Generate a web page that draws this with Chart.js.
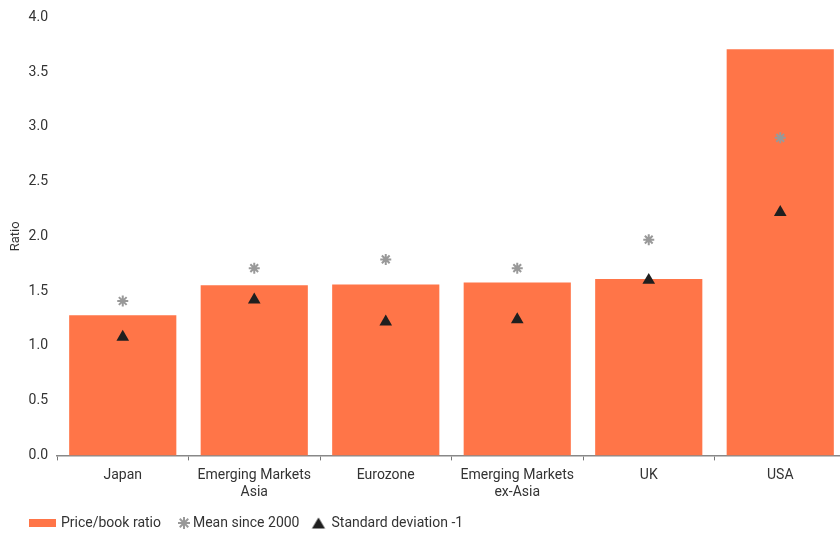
<!DOCTYPE html>
<html>
<head>
<meta charset="utf-8">
<script src="https://cdn.jsdelivr.net/npm/chart.js@4.4.0/dist/chart.umd.min.js"></script>
<style>
  html, body { margin: 0; padding: 0; background: #fff; overflow: hidden; }
  canvas { display: block; }
</style>
</head>
<body>
<canvas id="chart" width="846" height="534"></canvas>
<script>
// chart data
const categories = ['Japan', ['Emerging Markets', 'Asia'], 'Eurozone', ['Emerging Markets', 'ex-Asia'], 'UK', 'USA'];
const priceBook = [1.28, 1.555, 1.56, 1.58, 1.61, 3.71];
const meanSince2000 = [1.41, 1.71, 1.79, 1.71, 1.97, 2.90];
const stdDevMinus1 = [1.08, 1.42, 1.22, 1.24, 1.60, 2.22];
const yTicks = [0, 0.5, 1, 1.5, 2, 2.5, 3, 3.5, 4];

const FONT = "'Roboto', sans-serif";
const ORANGE = '#ff7548';
const GREY = '#999999';
const DARK = '#1f1f1f';

// legend symbols, drawn as small canvases so each entry keeps its own look
function symbolCanvas(w, h, draw) {
    const c = document.createElement('canvas');
    c.width = w; c.height = h;
    draw(c.getContext('2d'));
    return c;
}
const barSwatch = symbolCanvas(28, 8, g => { g.fillStyle = ORANGE; g.fillRect(0, 0, 28, 8); });
const starSwatch = symbolCanvas(34, 14, g => {
    g.strokeStyle = GREY; g.lineWidth = 2;
    const cx = 27, cy = 7, r = 6;
    for (let i = 0; i < 4; i++) {
        const a = i * Math.PI / 4;
        g.beginPath();
        g.moveTo(cx - Math.cos(a) * r, cy - Math.sin(a) * r);
        g.lineTo(cx + Math.cos(a) * r, cy + Math.sin(a) * r);
        g.stroke();
    }
});
const triSwatch = symbolCanvas(28, 14, g => {
    g.fillStyle = DARK;
    const cx = 20;
    g.beginPath();
    g.moveTo(cx, 1.5); g.lineTo(cx + 6.5, 12.5); g.lineTo(cx - 6.5, 12.5);
    g.closePath(); g.fill();
});

// put the legend where the reference has it (its box is also its clip area)
const legendPlace = {
    id: 'legendPlace',
    afterLayout(chart) {
        const lg = chart.legend;
        const h = lg.height;
        lg.left = 29;
        lg.top = 515;
        lg.bottom = lg.top + h;
    }
};

document.addEventListener("DOMContentLoaded", function() {
    const ctx = document.getElementById('chart').getContext('2d');
    new Chart(ctx, {
        type: 'bar',
        data: {
            labels: categories,
            datasets: [
                {
                    type: 'scatter',
                    label: 'Mean since 2000',
                    data: meanSince2000,
                    pointStyle: 'star',
                    radius: 5.5,
                    borderWidth: 2,
                    borderColor: GREY,
                    backgroundColor: GREY,
                    order: 1
                },
                {
                    type: 'scatter',
                    label: 'Standard deviation -1',
                    data: stdDevMinus1,
                    pointStyle: 'triangle',
                    radius: 7.3,
                    borderWidth: 0,
                    borderColor: DARK,
                    backgroundColor: DARK,
                    order: 0
                },
                {
                    label: 'Price/book ratio',
                    data: priceBook,
                    backgroundColor: ORANGE,
                    barPercentage: 0.815,
                    categoryPercentage: 1,
                    order: 2
                }
            ]
        },
        options: {
            responsive: false,
            animation: false,
            layout: { autoPadding: false, padding: { left: 0, right: 0, top: 12, bottom: 1 } },
            plugins: {
                tooltip: { enabled: false },
                legend: {
                    position: 'bottom',
                    align: 'start',
                    labels: {
                        usePointStyle: true,
                        pointStyleWidth: 24,
                        boxHeight: 14,
                        color: '#333',
                        font: { family: FONT, size: 14 },
                        padding: 1,
                        generateLabels: function(chart) {
                            const items = [[2, barSwatch], [0, starSwatch], [1, triSwatch]];
                            return items.map(([i, sym]) => ({
                                text: chart.data.datasets[i].label,
                                datasetIndex: i,
                                fillStyle: 'rgba(0,0,0,0)',
                                strokeStyle: 'rgba(0,0,0,0)',
                                lineWidth: 0,
                                pointStyle: sym,
                                fontColor: '#333',
                                hidden: false
                            }));
                        }
                    }
                }
            },
            scales: {
                x: {
                    grid: {
                        display: true,
                        drawOnChartArea: false,
                        drawTicks: true,
                        tickLength: 5,
                        color: '#777'
                    },
                    border: { display: true, color: '#888', width: 1.5 },
                    ticks: {
                        color: '#333',
                        font: { family: FONT, size: 14 },
                        padding: 7,
                        maxRotation: 0,
                        autoSkip: false
                    }
                },
                y: {
                    min: 0,
                    max: 4,
                    afterBuildTicks: axis => { axis.ticks = yTicks.map(v => ({ value: v })); },
                    afterFit: axis => { axis.width = 57; },
                    grid: { display: false, drawTicks: false },
                    border: { display: false },
                    title: {
                        display: true,
                        text: 'Ratio',
                        color: '#333',
                        font: { family: FONT, size: 13 },
                        padding: { top: 8, bottom: 0 }
                    },
                    ticks: {
                        color: '#333',
                        font: { family: FONT, size: 14 },
                        padding: 9,
                        callback: v => Number(v).toFixed(1)
                    }
                }
            }
        },
        plugins: [legendPlace]
    });
});
</script>
</body>
</html>
